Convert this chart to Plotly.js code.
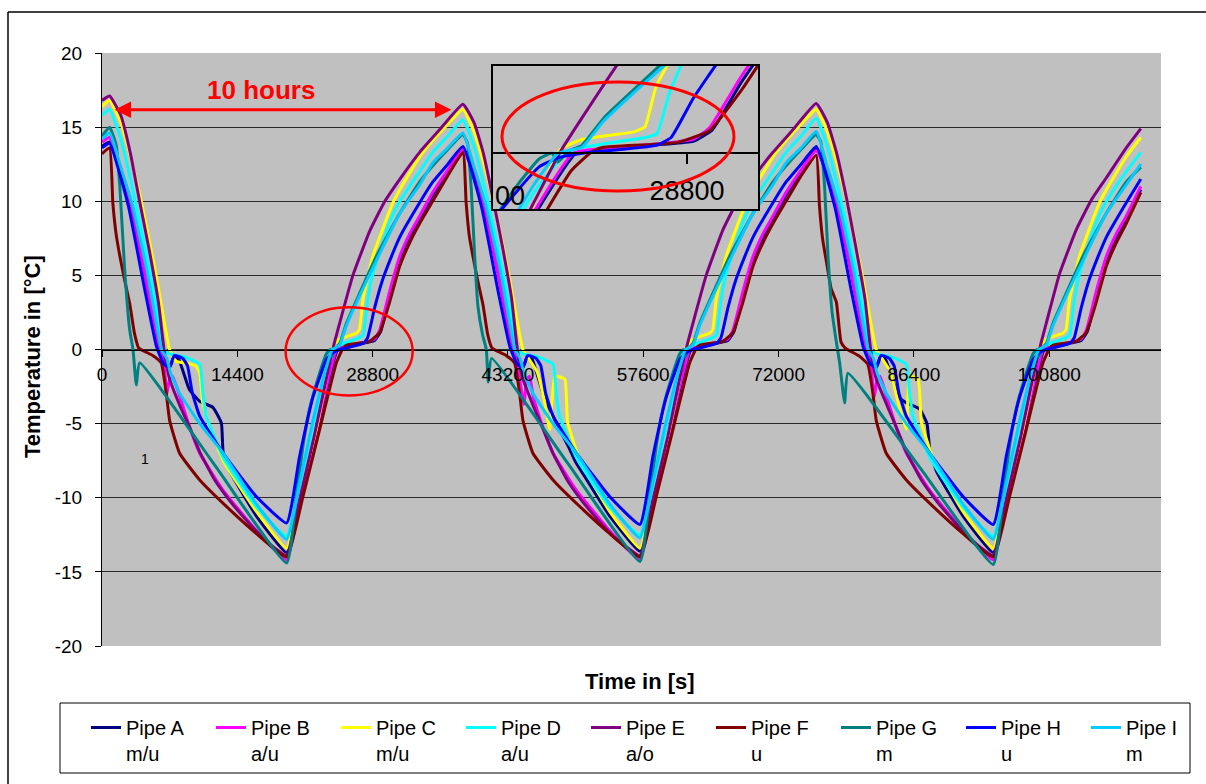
<!DOCTYPE html>
<html>
<head>
<meta charset="utf-8">
<script src="https://cdn.plot.ly/plotly-3.0.1.min.js"></script>
<style>
html, body { margin: 0; padding: 0; background: #ffffff; overflow: hidden; }
#chart { width: 1206px; height: 784px; }
</style>
</head>
<body>
<div id="chart"></div>
<script>
// ---------------- DATA (time in s, temperature in °C) ----------------
const seriesNames = ['Pipe A<br>m/u', 'Pipe B<br>a/u', 'Pipe C<br>m/u', 'Pipe D<br>a/u', 'Pipe E<br>a/o',
                     'Pipe F<br>u', 'Pipe G<br>m', 'Pipe H<br>u', 'Pipe I<br>m'];
const seriesColors = ['#000080', '#FF00FF', '#FFFF00', '#00FFFF', '#800080',
                      '#800000', '#008080', '#0000FF', '#00CCFF'];

const xTickVals = [0, 14400, 28800, 43200, 57600, 72000, 86400, 100800];
const xTickText = ['0', '14400', '28800', '43200', '57600', '72000', '86400', '100800'];
const yTickVals = [-20, -15, -10, -5, 0, 5, 10, 15, 20];
const yTickText = ['-20', '-15', '-10', '-5', '0', '5', '10', '15', '20'];

// Pipe A  m/u
const tA = [0, 809, 2000, 3120, 4600, 6130, 6600, 7200, 7700, 8200, 9300, 10400, 11800, 12700, 12900, 13600, 16400, 19650,
  21030, 22450, 23700, 25100, 26500, 28000, 29000, 29650, 30600, 31700, 32740, 33800, 35200, 36800,
  38410, 39600, 40720, 42200, 43730, 44200, 44800, 45300, 45800, 46900, 48000, 49600, 50500, 51200, 54000, 57250,
  58630, 60050, 61300, 62700, 64100, 65600, 66600, 67250, 68200, 69300, 70340, 71400, 72800, 74400,
  76010, 77200, 78320, 79800, 81330, 81800, 82400, 82900, 83400, 84800, 85600, 87000, 87800, 88100, 88800, 91600, 94850,
  96230, 97650, 98900, 100300, 101700, 103200, 104200, 104850, 105800, 106900, 107940, 109000, 110550];
const yA = [13.7, 14.0, 11.9, 9.7, 5.0, 0.0, -0.8, -1.2, -0.4, -0.7, -2.7, -3.5, -3.9, -4.95, -7.0, -8.2, -11.2, -13.7,
  -10.3, -6.6, -3.2, 0.0, 0.25, 0.45, 0.6, 1.2, 3.6, 6.0, 7.6, 8.8, 10.4, 12.0,
  13.6, 11.7, 9.6, 5.0, 0.0, -0.8, -1.2, -0.4, -0.7, -2.9, -4.5, -6.5, -7.7, -8.4, -11.2, -13.6,
  -10.3, -6.6, -3.2, 0.0, 0.25, 0.45, 0.6, 1.2, 3.6, 6.0, 7.6, 8.8, 10.4, 12.0,
  13.6, 11.7, 9.6, 5.0, 0.0, -0.8, -1.2, -0.4, -0.7, -3.2, -3.6, -4.0, -5.0, -6.8, -8.2, -11.2, -13.7,
  -10.3, -6.6, -3.2, 0.0, 0.25, 0.45, 0.6, 1.2, 3.6, 6.0, 7.6, 8.8, 10.8];

// Pipe B  a/u
const tB = [0, 809, 2000, 3120, 4600, 6130, 6600, 6900, 7200, 7500, 8300, 9300, 10400, 12900, 16400, 19650,
  21030, 22450, 23700, 25000, 26500, 28000, 29000, 29550, 30600, 31700, 32740, 33800, 35200, 36800,
  38410, 39600, 40720, 42200, 43730, 44200, 44900, 45200, 45500, 45900, 46900, 48000, 50500, 54000, 57250,
  58630, 60050, 61300, 62600, 64100, 65600, 66600, 67150, 68200, 69300, 70340, 71400, 72800, 74400,
  76010, 77200, 78320, 79800, 81330, 81800, 82200, 82500, 82800, 83500, 84500, 85600, 88100, 91600, 94850,
  96230, 97650, 98900, 100200, 101700, 103200, 104200, 104750, 105800, 106900, 107940, 109000, 110550];
const yB = [14.0, 14.3, 12.2, 9.7, 5.0, 0.0, -1.0, -3.0, -2.0, -1.8, -3.2, -5.2, -7.0, -9.5, -12.2, -14.2,
  -10.5, -6.5, -3.0, 0.0, 0.3, 0.5, 0.7, 1.3, 3.9, 6.3, 7.8, 9.0, 10.6, 12.1,
  13.5, 11.9, 9.5, 5.0, 0.0, -1.0, -3.7, -2.0, -1.8, -3.2, -5.2, -7.0, -9.5, -12.2, -14.2,
  -10.5, -6.5, -3.0, 0.0, 0.3, 0.5, 0.7, 1.3, 3.9, 6.3, 7.8, 9.0, 10.6, 12.1,
  13.4, 11.9, 9.5, 5.0, 0.0, -1.0, -3.2, -2.0, -1.8, -3.2, -5.2, -7.0, -9.5, -12.2, -14.2,
  -10.5, -6.5, -3.0, 0.0, 0.3, 0.5, 0.7, 1.3, 3.9, 6.3, 7.8, 9.0, 11.0];

// Pipe C  m/u
const tC = [0, 809, 2000, 3000, 4180, 5700, 7190, 7700, 7900, 10000, 10400, 10700, 11450, 12900, 16400, 19650,
  21030, 22800, 23870, 24580, 25300, 27060, 27400, 27770, 28830, 30960, 31700, 33800, 35200, 36800,
  38410, 39600, 40600, 41780, 43300, 44790, 45400, 46300, 47100, 47650, 48200, 49250, 49550, 50830, 54000, 57250,
  58630, 60400, 61470, 62180, 62900, 64660, 65000, 65370, 66430, 68560, 69300, 71400, 72800, 74400,
  76010, 77200, 78200, 79380, 80900, 82390, 83000, 83900, 84700, 85600, 85950, 86850, 87200, 88430, 91600, 94850,
  96230, 98000, 99070, 99780, 100500, 102260, 102600, 102970, 104030, 106160, 106900, 109000, 110550];
const yC = [16.4, 16.8, 15.3, 13.1, 10.0, 5.2, 0.0, -0.7, -0.8, -1.1, -1.6, -3.5, -5.2, -7.5, -10.9, -13.4,
  -9.9, -5.4, -2.0, 0.2, 0.7, 1.1, 1.35, 3.4, 6.3, 9.9, 10.8, 13.0, 14.1, 15.2,
  16.2, 14.7, 12.6, 9.7, 5.0, 0.0, -0.6, -1.5, -3.5, -5.4, -1.8, -2.0, -4.9, -7.4, -10.9, -13.4,
  -9.9, -5.4, -2.0, 0.2, 0.7, 1.1, 1.35, 3.4, 6.3, 9.9, 10.8, 13.0, 14.1, 15.2,
  16.2, 14.7, 12.6, 9.7, 5.0, 0.0, -0.6, -1.5, -3.5, -5.4, -1.8, -2.0, -4.9, -7.3, -10.9, -13.4,
  -9.9, -5.4, -2.0, 0.2, 0.7, 1.1, 1.35, 3.4, 6.3, 9.9, 10.8, 13.0, 14.3];

// Pipe D  a/u
const tD = [0, 809, 2000, 3650, 5200, 6660, 7200, 8800, 10400, 10750, 11100, 12900, 16400, 19650,
  21030, 22450, 23700, 24750, 25300, 27400, 27800, 28200, 28700, 29500, 30600, 31700, 33800, 35200, 36800,
  38410, 39600, 41250, 42800, 44260, 44800, 46400, 48000, 48350, 48700, 50500, 54000, 57250,
  58630, 60050, 61300, 62350, 62900, 65000, 65400, 65800, 66300, 67100, 68200, 69300, 71400, 72800, 74400,
  76010, 77200, 78850, 80400, 81860, 82400, 84000, 85600, 85950, 86300, 88100, 91600, 94850,
  96230, 97650, 98900, 99950, 100500, 102600, 103000, 103400, 103900, 104700, 105800, 106900, 109000, 110550];
const yD = [15.8, 16.2, 14.2, 9.7, 4.9, 0.0, -0.3, -0.5, -1.0, -3.0, -4.5, -7.3, -10.6, -12.6,
  -9.2, -5.2, -2.0, 0.0, 0.3, 0.8, 1.0, 3.0, 4.8, 6.5, 8.6, 10.0, 12.0, 13.3, 14.4,
  15.5, 13.7, 9.5, 4.8, 0.0, -0.3, -0.5, -1.0, -3.0, -4.5, -7.3, -10.6, -12.5,
  -9.2, -5.2, -2.0, 0.0, 0.3, 0.8, 1.0, 3.0, 4.8, 6.5, 8.6, 10.0, 12.0, 13.3, 14.4,
  15.6, 13.7, 9.5, 4.8, 0.0, -0.3, -0.5, -1.0, -3.0, -4.5, -7.3, -10.6, -12.6,
  -9.2, -5.2, -2.0, 0.0, 0.3, 0.8, 1.0, 3.0, 4.8, 6.5, 8.6, 10.0, 12.0, 13.3];

// Pipe E  a/o
const tE = [0, 809, 2000, 3000, 4000, 5000, 6000, 6600, 7200, 8300, 9300, 10400, 12000, 13600, 15200, 16800, 18400, 19650,
  21000, 22600, 23700, 24550, 25300, 26700, 28500, 30100, 31700, 33800, 35900,
  38410, 39600, 40600, 41600, 42600, 43600, 44200, 44800, 45900, 46900, 48000, 49600, 51200, 52800, 54400, 56000, 57250,
  58600, 60200, 61300, 62150, 62900, 64300, 66100, 67700, 69300, 71400, 73500,
  76010, 77200, 78200, 79200, 80200, 81200, 81800, 82400, 83500, 84500, 85600, 87200, 88800, 90400, 92000, 93600, 94850,
  96200, 97800, 98900, 99750, 100500, 101900, 103700, 105300, 106900, 109000, 110550];
const yE = [16.8, 17.1, 15.8, 13.3, 10.0, 6.8, 3.2, 0.0, -2.0, -3.8, -5.2, -6.9, -8.8, -10.2, -11.4, -12.5, -13.4, -13.9,
  -10.2, -5.8, -2.5, 0.0, 1.8, 5.0, 8.0, 10.0, 11.5, 13.3, 14.8,
  16.55, 15.3, 13.2, 10.2, 7.0, 3.4, 0.0, -2.0, -3.8, -5.3, -7.0, -8.9, -10.3, -11.5, -12.6, -13.4, -13.9,
  -10.2, -5.9, -2.5, 0.0, 1.8, 5.0, 8.1, 10.1, 11.6, 13.3, 14.8,
  16.6, 15.3, 13.2, 10.3, 7.0, 3.4, 0.0, -2.0, -3.7, -5.2, -6.9, -8.8, -10.2, -11.4, -12.5, -13.4, -13.9,
  -10.2, -5.8, -2.4, 0.0, 1.8, 5.1, 8.1, 10.1, 11.6, 13.6, 14.9];

// Pipe F  u
const tF = [0, 809, 1150, 1500, 1900, 2400, 2950, 3450, 3900, 5400, 6300, 6850, 7200, 8260, 10400, 13600, 16400, 19650,
  21390, 23160, 24940, 25650, 26030, 28480, 29550, 30610, 31670, 32740, 33800, 35190, 36780,
  38410, 38750, 39100, 39500, 40000, 40550, 41050, 41500, 43000, 43900, 44450, 44800, 45860, 48000, 51200, 54000, 57250,
  58990, 60760, 62540, 63250, 63630, 66080, 67150, 68210, 69270, 70340, 71400, 72790, 74380,
  76010, 76350, 76700, 77100, 77600, 78150, 78650, 79100, 80600, 81500, 82050, 82400, 83460, 85600, 88800, 91600, 94850,
  96590, 98360, 100140, 100850, 101230, 103680, 104750, 105810, 106870, 107940, 109000, 110550];
const yF = [13.2, 13.6, 9.9, 7.8, 6.3, 4.7, 3.1, 1.1, 0.1, -0.4, -0.9, -3.0, -4.8, -7.0, -8.8, -10.8, -12.4, -14.0,
  -9.9, -5.4, -0.9, 0.1, 0.3, 0.55, 1.15, 3.2, 5.6, 7.2, 8.5, 10.0, 11.7,
  13.3, 9.9, 7.6, 6.2, 4.6, 3.0, 1.0, 0.1, -0.4, -0.9, -3.0, -4.8, -7.0, -8.8, -10.8, -12.4, -14.0,
  -9.9, -5.4, -0.9, 0.1, 0.3, 0.55, 1.15, 3.2, 5.6, 7.2, 8.5, 10.0, 11.7,
  13.1, 9.7, 7.4, 5.9, 4.1, 3.2, 0.5, 0.1, -0.45, -1.0, -3.0, -4.8, -7.0, -8.8, -10.8, -12.4, -14.0,
  -9.9, -5.4, -0.9, 0.1, 0.3, 0.55, 1.15, 3.2, 5.6, 7.2, 8.5, 10.6];

// Pipe G  m
const tG = [0, 809, 1500, 1900, 2400, 2940, 3300, 3650, 4000, 12000, 19650,
  20680, 21390, 22090, 23160, 23870, 24300, 24500, 24850, 25300, 26030, 27420, 29200, 31700, 33800, 35200, 36800,
  38410, 38900, 39300, 39660, 40010, 40500, 40900, 41100, 41450, 49600, 57250,
  58280, 58990, 59690, 60760, 61470, 61900, 62100, 62450, 62900, 63630, 65020, 66800, 69300, 71400, 72800, 74400,
  76010, 76500, 76900, 77260, 77700, 78200, 78500, 79030, 79380, 87200, 94850,
  95880, 96590, 97290, 98360, 99070, 99500, 99700, 100050, 100500, 101230, 102620, 104400, 106900, 109000, 110550];
const yG = [14.4, 15.0, 13.8, 11.0, 5.5, 1.35, 0.0, -2.4, -0.9, -7.8, -14.4,
  -9.9, -6.5, -4.0, -1.6, -0.3, 0.0, -0.45, 0.1, 0.4, 1.8, 3.8, 6.3, 9.2, 11.3, 12.4, 13.5,
  14.5, 13.9, 10.8, 6.3, 2.9, 1.0, 0.0, -2.2, -0.6, -7.7, -14.3,
  -9.9, -6.5, -4.0, -1.6, -0.3, 0.0, -0.45, 0.1, 0.4, 1.8, 3.8, 6.3, 9.2, 11.3, 12.4, 13.5,
  14.5, 14.0, 11.0, 6.3, 2.5, 0.3, -0.9, -3.6, -1.6, -8.1, -14.5,
  -9.9, -6.5, -4.0, -1.6, -0.3, 0.0, -0.45, 0.1, 0.4, 1.8, 3.8, 6.3, 9.2, 11.3, 12.3];

// Pipe H  u
const tH = [0, 809, 2800, 4500, 5800, 6600, 7200, 7700, 8600, 9100, 9600, 10400, 12900, 16400, 19650,
  21030, 22460, 23870, 24590, 25300, 27780, 28270, 29010, 29860, 30820, 31700, 33800, 35200, 36800,
  38410, 40400, 42100, 43400, 44200, 44800, 45300, 46200, 46700, 47200, 48000, 50500, 54000, 57250,
  58630, 60060, 61470, 62190, 62900, 65380, 65870, 66610, 67460, 68420, 69300, 71400, 72800, 74400,
  76010, 78000, 79700, 81000, 81800, 82400, 82900, 83800, 84300, 84800, 85600, 88100, 91600, 94850,
  96230, 97660, 99070, 99790, 100500, 102980, 103470, 104210, 105060, 106020, 106900, 109000, 110550];
const yH = [13.6, 13.9, 9.7, 4.2, 0.2, -1.0, -1.2, -0.4, -0.6, -1.1, -2.9, -4.5, -7.0, -9.9, -11.7,
  -7.2, -3.2, -0.7, -0.2, 0.0, 0.4, 0.8, 2.8, 4.7, 6.3, 7.6, 9.9, 11.3, 12.5,
  13.7, 9.6, 4.1, 0.2, -1.0, -1.2, -0.4, -0.6, -1.1, -2.9, -4.5, -7.0, -9.9, -11.8,
  -7.2, -3.2, -0.7, -0.2, 0.0, 0.4, 0.8, 2.8, 4.7, 6.3, 7.6, 9.9, 11.3, 12.5,
  13.7, 9.6, 4.1, 0.2, -1.0, -1.2, -0.4, -0.6, -1.1, -2.9, -4.5, -7.0, -9.9, -11.8,
  -7.2, -3.2, -0.7, -0.2, 0.0, 0.4, 0.8, 2.8, 4.7, 6.3, 7.6, 9.9, 11.5];

// Pipe I  m
const tI = [0, 809, 2000, 3260, 4800, 6340, 6900, 7300, 8300, 10400, 12900, 16400, 19650,
  21030, 22450, 23700, 24500, 25300, 26000, 27400, 29200, 31700, 33800, 35200, 36800,
  38410, 39600, 40860, 42400, 43940, 44500, 44900, 45900, 48000, 50500, 54000, 57250,
  58630, 60050, 61300, 62100, 62900, 63600, 65000, 66800, 69300, 71400, 72800, 74400,
  76010, 77200, 78460, 80000, 81540, 82100, 82500, 83500, 85600, 88100, 91600, 94850,
  96230, 97650, 98900, 99700, 100500, 101200, 102600, 104400, 106900, 109000, 110550];
const yI = [14.2, 14.6, 12.3, 9.7, 5.3, 0.0, -0.6, -1.6, -3.0, -5.0, -7.0, -10.4, -12.8,
  -9.0, -4.8, -1.6, 0.0, 0.3, 1.6, 3.6, 6.0, 9.2, 11.1, 12.6, 13.6,
  14.6, 12.3, 9.7, 5.3, 0.0, -0.6, -1.6, -3.0, -5.0, -7.0, -10.4, -12.7,
  -9.0, -4.8, -1.6, 0.0, 0.3, 1.6, 3.6, 6.0, 9.2, 11.1, 12.6, 13.6,
  14.7, 12.3, 9.7, 5.3, 0.0, -0.6, -1.6, -3.0, -5.0, -7.0, -10.4, -12.8,
  -9.0, -4.8, -1.6, 0.0, 0.3, 1.6, 3.6, 6.0, 9.2, 11.1, 12.5];

const seriesT = [tA, tB, tC, tD, tE, tF, tG, tH, tI];
const seriesY = [yA, yB, yC, yD, yE, yF, yG, yH, yI];

// ---------------- LAYOUT HELPERS (pixels -> paper fractions) ----------------
const W = 1206, H = 784, ML = 102, MR = 45, MT = 53, MB = 138;
const PW = W - ML - MR, PH = H - MT - MB;
const fx = p => (p - ML) / PW;
const fy = p => (H - MB - p) / PH;
const FONT = 'Liberation Sans, Arial, Helvetica, sans-serif';
const NARROW = 'Liberation Sans Narrow, Arial Narrow, Liberation Sans, Arial, sans-serif';

const traces = [];
seriesT.forEach((t, i) => {
  traces.push({
    type: 'scatter', mode: 'lines', name: seriesNames[i],
    legend: i < 8 ? 'legend' : 'legend2',
    x: t, y: seriesY[i], xaxis: 'x', yaxis: 'y',
    line: { color: seriesColors[i], width: 3, shape: 'spline', smoothing: 0.4 },
    hoverinfo: 'skip'
  });
});
// inset (magnified view around 28800 s)
seriesT.forEach((t, i) => {
  traces.push({
    type: 'scatter', mode: 'lines', name: seriesNames[i], showlegend: false,
    x: t, y: seriesY[i], xaxis: 'x2', yaxis: 'y2',
    line: { color: seriesColors[i], width: 3, shape: 'spline', smoothing: 0.4 },
    hoverinfo: 'skip'
  });
});

const legendCommon = {
  orientation: 'h', xanchor: 'left', yanchor: 'top',
  bgcolor: 'rgba(0,0,0,0)', borderwidth: 0,
  font: { family: FONT, size: 20, color: '#000' },
  valign: 'top', itemwidth: 30, tracegroupgap: 0, traceorder: 'normal'
};

const layout = {
  width: W, height: H,
  margin: { l: ML, r: MR, t: MT, b: MB, pad: 0, autoexpand: false },
  paper_bgcolor: '#ffffff', plot_bgcolor: '#C0C0C0',
  font: { family: FONT, color: '#000000', size: 19 },
  showlegend: true,
  xaxis: {
    range: [0, 112700], tickvals: xTickVals, ticktext: xTickText,
    anchor: 'free', position: 0.5,
    ticks: 'outside', ticklen: 6, tickwidth: 1, tickcolor: '#000',
    showline: true, linecolor: '#000', linewidth: 1,
    showgrid: false, zeroline: false, automargin: false,
    tickfont: { family: FONT, size: 19, color: '#000' },
    ticklabelstandoff: 2, fixedrange: true
  },
  yaxis: {
    range: [-20, 20], tickvals: yTickVals, ticktext: yTickText,
    ticks: 'outside', ticklen: 6, tickwidth: 1, tickcolor: '#000',
    showline: true, linecolor: '#000', linewidth: 1,
    showgrid: true, gridcolor: '#2a2a2a', gridwidth: 1, zeroline: false, automargin: false,
    tickfont: { family: FONT, size: 19, color: '#000' },
    ticklabelstandoff: 9, fixedrange: true
  },
  xaxis2: {
    domain: [fx(492), fx(759)], range: [22300, 31200],
    anchor: 'free', position: fy(153),
    tickvals: [28800], ticktext: ['28800'],
    ticks: 'outside', ticklen: 10, tickwidth: 1.5, tickcolor: '#000',
    showline: true, linecolor: '#000', linewidth: 2,
    showgrid: false, zeroline: false, automargin: false,
    tickfont: { family: NARROW, size: 27, color: '#000' },
    ticklabelstandoff: 4, fixedrange: true
  },
  yaxis2: {
    domain: [fy(210), fy(65)], range: [-2.9, 4.5], anchor: 'x2',
    showticklabels: false, ticks: '', showgrid: false, zeroline: false, showline: false, fixedrange: true
  },
  legend: Object.assign({}, legendCommon, {
    x: fx(86), y: fy(708), entrywidth: 80, entrywidthmode: 'pixels'
  }),
  legend2: Object.assign({}, legendCommon, {
    x: fx(1086), y: fy(708)
  }),
  shapes: [
    // outer chart border (left and top)
    { type: 'line', xref: 'paper', yref: 'paper', x0: fx(8), x1: fx(8), y0: fy(12), y1: fy(784), line: { color: '#000', width: 1.5 } },
    { type: 'line', xref: 'paper', yref: 'paper', x0: fx(8), x1: fx(1206), y0: fy(12), y1: fy(12), line: { color: '#000', width: 1.5 } },
    // legend box
    { type: 'rect', xref: 'paper', yref: 'paper', x0: fx(60), x1: fx(1190), y0: fy(773), y1: fy(703), line: { color: '#000', width: 1 } },
    // red ellipse on the main plot
    { type: 'circle', xref: 'x', yref: 'y', x0: 19540, x1: 33060, y0: -3.1, y1: 2.85, line: { color: '#FF0000', width: 2.5 }, layer: 'above' },
    // inset frame
    { type: 'rect', xref: 'paper', yref: 'paper', x0: fx(492), x1: fx(759), y0: fy(210), y1: fy(65), line: { color: '#000', width: 2 }, layer: 'above' },
    // red ellipse in inset
    { type: 'circle', xref: 'paper', yref: 'paper', x0: fx(502), x1: fx(734), y0: fy(191), y1: fy(82), line: { color: '#FF0000', width: 3 }, layer: 'above' }
  ],
  annotations: [
    { text: 'Temperature in [°C]', xref: 'paper', yref: 'paper', x: fx(32), y: fy(357), textangle: -90,
      showarrow: false, xanchor: 'center', yanchor: 'middle', font: { family: FONT, size: 22, weight: 'bold', color: '#000' } },
    { text: 'Time in [s]', xref: 'paper', yref: 'paper', x: fx(640), y: fy(681),
      showarrow: false, xanchor: 'center', yanchor: 'middle', font: { family: FONT, size: 22, weight: 'bold', color: '#000' } },
    { text: '10 hours', xref: 'x', yref: 'y', x: 16930, y: 17.5,
      showarrow: false, xanchor: 'center', yanchor: 'middle', font: { family: FONT, size: 26, weight: 'bold', color: '#FF0000' } },
    { text: '', xref: 'x', yref: 'y', x: 1340, y: 16.17, axref: 'x', ayref: 'y', ax: 37350, ay: 16.17,
      showarrow: true, arrowhead: 2, arrowside: 'end+start', arrowsize: 1.1, arrowwidth: 3, arrowcolor: '#FF0000', standoff: 0, startstandoff: 0 },
    { text: '1', xref: 'paper', yref: 'paper', x: fx(145), y: fy(459), showarrow: false,
      xanchor: 'center', yanchor: 'middle', font: { family: FONT, size: 14, color: '#000' } },
    { text: '00', xref: 'paper', yref: 'paper', x: fx(493), y: fy(196), showarrow: false,
      xanchor: 'left', yanchor: 'middle', font: { family: NARROW, size: 27, color: '#000' } }
  ]
};

Plotly.newPlot('chart', traces, layout, { staticPlot: true, displayModeBar: false });
</script>
</body>
</html>
